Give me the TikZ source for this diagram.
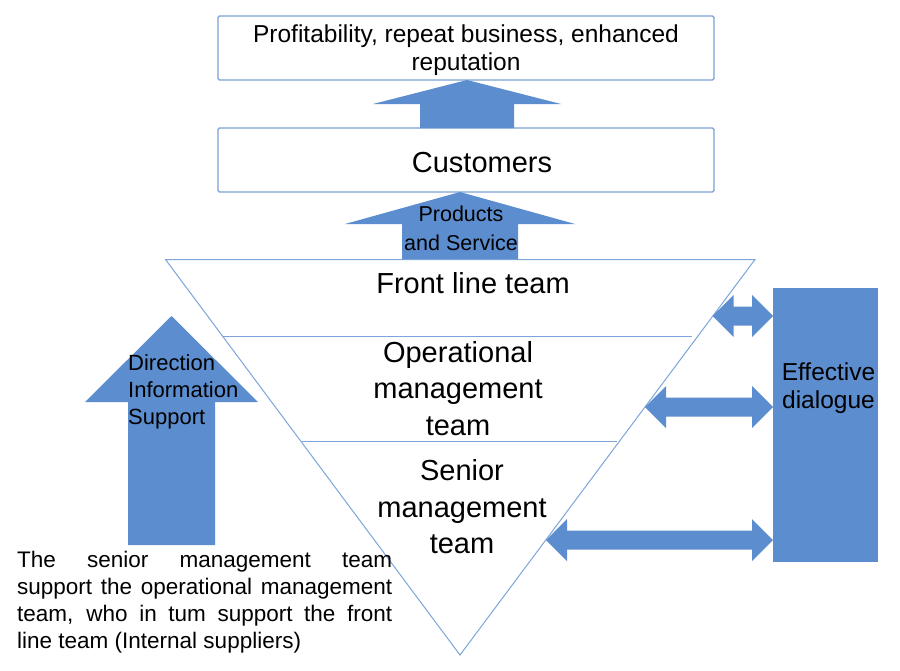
\documentclass[tikz,border=0pt]{standalone}
\usepackage{fontspec}
\setmainfont{Liberation Sans}
\definecolor{arrowblue}{RGB}{92,141,207}
\definecolor{edgeblue}{RGB}{122,160,214}
\definecolor{lineblue}{RGB}{125,165,218}
% vertical block arrow: cx, tip y, head base y, bottom y, head half width, shaft half width
\newcommand\uparr[6]{%
  \fill[arrowblue] (#1,#2) -- (#1+#5,#3) -- (#1+#6,#3) -- (#1+#6,#4)
    -- (#1-#6,#4) -- (#1-#6,#3) -- (#1-#5,#3) -- cycle;}
% horizontal double block arrow: left x, right x, y
\newcommand\dblarr[3]{%
  \fill[arrowblue] (#1,#3) -- (#1+21,#3-21) -- (#1+21,#3-9.5) -- (#2-21,#3-9.5)
    -- (#2-21,#3-21) -- (#2,#3) -- (#2-21,#3+21) -- (#2-21,#3+9.5)
    -- (#1+21,#3+9.5) -- (#1+21,#3+21) -- cycle;}
\begin{document}
\begin{tikzpicture}[x=1pt,y=-1pt,
  box/.style={draw=edgeblue,line width=1.2pt,rounded corners=1.5pt,
    minimum width=496pt,minimum height=64pt,inner sep=0pt},
  bigtext/.style={font=\fontsize{29}{36.5}\selectfont,align=center,inner sep=0pt},
  midtext/.style={font=\fontsize{24.5}{28.5}\selectfont,align=center,inner sep=0pt},
  smalltext/.style={font=\fontsize{22}{27}\selectfont,inner sep=0pt},
  tri/.style={draw=lineblue,line width=1pt}]
\useasboundingbox (0,0) rectangle (900,670);
\fill[white] (0,0) rectangle (900,670);

% top boxes
\node[box] (goal) at (466,48) {};
\node[midtext] (goalt) at (466,50) {Profitability, repeat business, enhanced\\reputation};
\node[box] (cust) at (466,160) {};
\node[bigtext] (custt) at (482,163) {Customers};

% triangle
\coordinate (tl) at (165.5,259.5);
\coordinate (tr) at (755,259.5);
\coordinate (bt) at (460,655);
\draw[tri] (tl) -- (tr) -- (bt) -- cycle;
\coordinate (l1a) at (223,336); \coordinate (l1b) at (692,336);
\coordinate (l2a) at (302,441); \coordinate (l2b) at (617,441);
\draw[tri] (l1a) -- (l1b);
\draw[tri] (l2a) -- (l2b);

% up arrows
\uparr{467}{80}{104}{128}{94}{47}
\uparr{460}{192}{224}{259}{115}{58}
\uparr{171.5}{316}{402}{545}{86.5}{43.5}

% double arrows
\dblarr{712.5}{773}{316}
\dblarr{645}{773}{407}
\dblarr{546}{773}{540}

% effective dialogue box
\node[fill=arrowblue,minimum width=105pt,minimum height=274pt,inner sep=0pt] (dlg) at (825.5,425) {};
\node[midtext] (dlgt) at (828.5,388) {Effective\\dialogue};

% texts
\node[align=center,inner sep=0pt,font=\fontsize{21.5}{29}\selectfont] (prod) at (461,228) {Products\\and Service};
\node[bigtext] (front) at (473,283) {Front line team};
\node[bigtext] (oper) at (458,388.5) {Operational\\management\\team};
\node[bigtext] (senior) at (462,507) {Senior\\management\\team};
\node[smalltext,align=left,anchor=west] (dir) at (128,392) {Direction\\Information\\Support};
\node[anchor=north west,text width=375pt,align=justify,inner sep=0pt,font=\fontsize{22.5}{27}\selectfont] (note) at (17,551)
  {The senior management team\linebreak support the operational management\linebreak team, who in tum support the front\linebreak line team (Internal suppliers)};
\end{tikzpicture}
\end{document}
